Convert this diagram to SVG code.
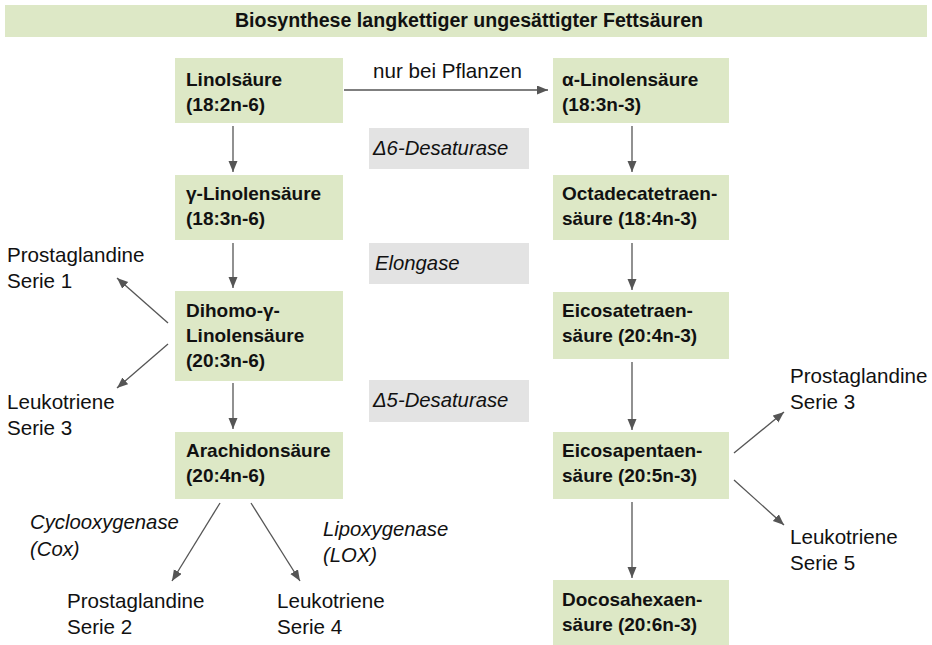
<svg xmlns="http://www.w3.org/2000/svg" width="932" height="645" viewBox="0 0 932 645">
<defs>
<style>
.box{fill:#dde8c6}
.enz{fill:#e3e3e3}
.b{font-family:"Liberation Sans",Arial,sans-serif;font-weight:bold;font-size:19px;fill:#111}
.r{font-family:"Liberation Sans",Arial,sans-serif;font-size:20.6px;fill:#111}
.i{font-family:"Liberation Sans",Arial,sans-serif;font-style:italic;font-size:20.3px;fill:#111}
.c line{stroke:#555;stroke-width:1.3;marker-end:url(#ah)}
</style>
<marker id="ah" markerUnits="userSpaceOnUse" markerWidth="12" markerHeight="10" refX="11" refY="4.5" orient="auto">
<path d="M0,0 L11,4.5 L0,9 Z" fill="#555"/>
</marker>
</defs>
<rect width="932" height="645" fill="#fff"/>
<g id="title">
<rect class="box" x="5" y="5" width="922" height="32"/>
<text class="b" x="469" y="27" text-anchor="middle" style="font-size:19.6px">Biosynthese langkettiger ungesättigter Fettsäuren</text>
</g>
<g id="enzymes">
<g id="e-d6"><rect class="enz" x="369" y="128" width="160" height="41"/><text class="i" x="373" y="155">Δ6-Desaturase</text></g>
<g id="e-elong"><rect class="enz" x="369" y="243" width="160" height="41"/><text class="i" x="375" y="270">Elongase</text></g>
<g id="e-d5"><rect class="enz" x="369" y="380" width="160" height="42"/><text class="i" x="373" y="407">Δ5-Desaturase</text></g>
</g>
<g id="n-linol"><rect class="box" x="175" y="58" width="168" height="65"/><text class="b" x="186" y="86">Linolsäure</text><text class="b" x="186" y="111">(18:2n-6)</text></g>
<g id="n-glin"><rect class="box" x="175" y="175" width="168" height="65"/><text class="b" x="186" y="200">γ-Linolensäure</text><text class="b" x="186" y="225">(18:3n-6)</text></g>
<g id="n-dihomo"><rect class="box" x="175" y="291" width="168" height="90"/><text class="b" x="186" y="317">Dihomo-γ-</text><text class="b" x="186" y="342">Linolensäure</text><text class="b" x="186" y="367">(20:3n-6)</text></g>
<g id="n-arach"><rect class="box" x="175" y="432" width="168" height="67"/><text class="b" x="186" y="457">Arachidonsäure</text><text class="b" x="186" y="482">(20:4n-6)</text></g>
<g id="n-alin"><rect class="box" x="553" y="58" width="176" height="65"/><text class="b" x="562" y="86">α-Linolensäure</text><text class="b" x="562" y="111">(18:3n-3)</text></g>
<g id="n-octa"><rect class="box" x="553" y="175" width="176" height="65"/><text class="b" x="562" y="200">Octadecatetraen-</text><text class="b" x="562" y="225">säure (18:4n-3)</text></g>
<g id="n-eicotetra"><rect class="box" x="553" y="292" width="176" height="67"/><text class="b" x="562" y="317">Eicosatetraen-</text><text class="b" x="562" y="342">säure (20:4n-3)</text></g>
<g id="n-eicopenta"><rect class="box" x="553" y="432" width="176" height="67"/><text class="b" x="562" y="457">Eicosapentaen-</text><text class="b" x="562" y="482">säure (20:5n-3)</text></g>
<g id="n-docosa"><rect class="box" x="553" y="580" width="176" height="65"/><text class="b" x="562" y="606">Docosahexaen-</text><text class="b" x="562" y="631">säure (20:6n-3)</text></g>
<g id="n-pg1"><text class="r" x="7" y="262">Prostaglandine</text><text class="r" x="7" y="288">Serie 1</text></g>
<g id="n-lt3"><text class="r" x="7" y="409">Leukotriene</text><text class="r" x="7" y="435">Serie 3</text></g>
<g id="n-pg2"><text class="r" x="67" y="608">Prostaglandine</text><text class="r" x="67" y="634">Serie 2</text></g>
<g id="n-lt4"><text class="r" x="277" y="608">Leukotriene</text><text class="r" x="277" y="634">Serie 4</text></g>
<g id="n-pg3"><text class="r" x="790" y="383">Prostaglandine</text><text class="r" x="790" y="409">Serie 3</text></g>
<g id="n-lt5"><text class="r" x="790" y="544">Leukotriene</text><text class="r" x="790" y="570">Serie 5</text></g>
<g id="labels">
<text class="r" x="373" y="78">nur bei Pflanzen</text>
<text class="i" x="30" y="529">Cyclooxygenase</text><text class="i" x="30" y="556">(Cox)</text>
<text class="i" x="323" y="536">Lipoxygenase</text><text class="i" x="323" y="562">(LOX)</text>
</g>
<g id="connectors" class="c">
<line x1="344" y1="90" x2="548" y2="90"/>
<line x1="233" y1="126" x2="233" y2="172"/>
<line x1="233" y1="243" x2="233" y2="288"/>
<line x1="233" y1="383" x2="233" y2="429"/>
<line x1="632" y1="126" x2="632" y2="172"/>
<line x1="632" y1="243" x2="632" y2="290"/>
<line x1="632" y1="362" x2="632" y2="430"/>
<line x1="632" y1="502" x2="632" y2="578"/>
<line x1="168" y1="323" x2="117" y2="278"/>
<line x1="168" y1="344" x2="117" y2="388"/>
<line x1="220" y1="503" x2="172" y2="581"/>
<line x1="251" y1="503" x2="300" y2="581"/>
<line x1="734" y1="453" x2="784" y2="412"/>
<line x1="734" y1="480" x2="784" y2="525"/>
</g>
</svg>
